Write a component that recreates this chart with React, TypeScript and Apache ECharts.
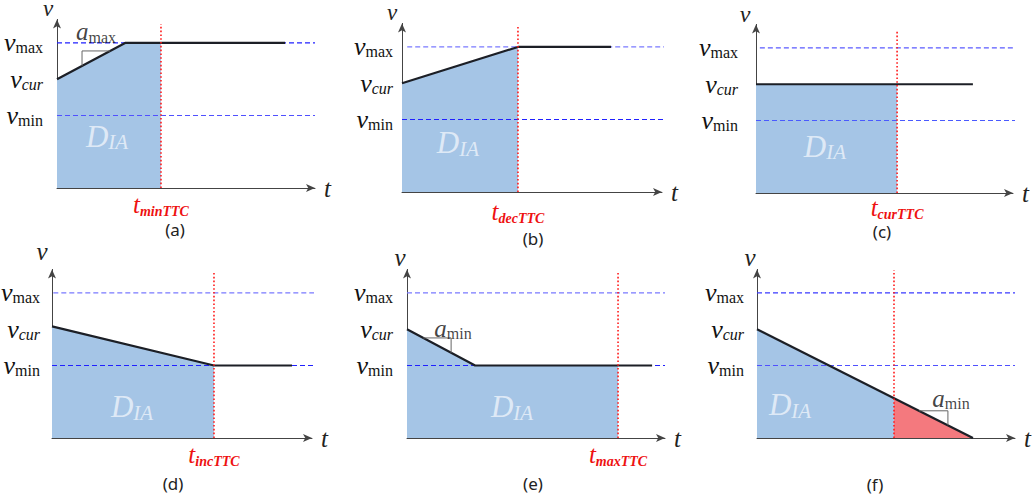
import React, { useEffect, useRef } from 'react';
import * as echarts from 'echarts';

// ---------- data ----------
const V_MAX = 4;
const V_CUR = 3;
const V_MIN = 2;
const V_AXIS_TOP = 4.65;
const T_AXIS_END = 10;
const yTickValues = [V_MIN, V_CUR, V_MAX];
const yTickSubs = ['min', 'cur', 'max'];

const captions = ['(a)', '(b)', '(c)', '(d)', '(e)', '(f)'];
const ttcTimes = [4.03, 4.46, 5.49, 6.23, 8.18, 5.31];
const ttcNames = ['minTTC', 'decTTC', 'curTTC', 'incTTC', 'maxTTC', ''];
const ttcTops = [4.52, 4.55, 4.5, 4.55, 4.55, 4.63];

const speedA = [[0, 3], [2.64, 4], [8.84, 4]];
const speedB = [[0, 3], [4.46, 4], [8.04, 4]];
const speedC = [[0, 3], [8.44, 3]];
const speedD = [[0, 3.08], [6.23, 2], [9.23, 2]];
const speedE = [[0, 3], [2.64, 2], [9.5, 2]];
const speedF = [[0, 3], [8.37, 0]];
const speedProfiles = [speedA, speedB, speedC, speedD, speedE, speedF];

const areaA = [[0, 3], [2.64, 4], [4.03, 4]];
const areaB = [[0, 3], [4.46, 4]];
const areaC = [[0, 3], [5.49, 3]];
const areaD = [[0, 3.08], [6.23, 2]];
const areaE = [[0, 3], [2.64, 2], [8.18, 2]];
const areaF = [[0, 3], [5.31, 1.1]];
const distanceAreas = [areaA, areaB, areaC, areaD, areaE, areaF];
const overshootF = [[5.31, 1.1], [8.37, 0]];

const vmaxSpans = [[0, 10], [0.2, 10.1], [0.15, 10.3], [0.05, 10.3], [0, 10], [0, 10]];
const vminSpans = [[0, 10], [0, 10.1], [0, 10.3], [0, 10.3], [0, 10], [0, 10]];

const accelA = [[2.06, 3.78], [0.97, 3.78], [0.97, 3.37]];
const accelE = [[0.63, 2.76], [1.71, 2.76], [1.71, 2.35]];
const accelF = [[6.28, 0.75], [7.4, 0.75], [7.4, 0.35]];
const accelMarks = [accelA, null, null, null, accelE, accelF];
const accelLabelPos = [[1.51, 4.3], null, null, null, [1.78, 3.01], [7.52, 1.08]];
const accelLabelSubs = ['max', '', '', '', 'min', 'min'];
const diaLabelPos = [[1.94, 1.42], [2.15, 1.35], [2.68, 1.28], [3.08, 0.85], [4.07, 0.85], [1.28, 0.91]];

// ---------- layout / style ----------
const SERIF = 'Liberation Serif, serif';
const SANS = 'Noto Sans, sans-serif';
const PLOT_H = 168.6;
const gridBoxes = [
  { left: 57, bottom: 497 - 188, width: 258, height: PLOT_H },
  { left: 402, bottom: 497 - 192, width: 260, height: PLOT_H },
  { left: 756, bottom: 497 - 193, width: 257, height: PLOT_H },
  { left: 52, bottom: 497 - 438, width: 260, height: PLOT_H },
  { left: 407, bottom: 497 - 438, width: 258, height: PLOT_H },
  { left: 757, bottom: 497 - 438, width: 258, height: PLOT_H },
];
const yLabelMargins = [14, 9, 18, 12, 14, 13];
const xLabelMargins = [4, 7, 2, 4, 4, 0];
const yNameGaps = [1, 1, 0, 8, 2, 2];
const yNamePadRight = [18, 20, 22, 20, 14, 14];
const yNameSizes = [23, 23, 24, 25, 25, 25];
const captionPos = [[175, 229], [533, 238], [882, 231], [173, 483], [533, 483], [875, 484]];
const dashColors = [
  ['#2020ff', '#5050ff'],
  ['#7a7aff', '#2020ff'],
  ['#5a5aff', '#4a5aff'],
  ['#7a7aff', '#2020ff'],
  ['#7a7aff', '#2020ff'],
  ['#3a3aff', '#5050ff'],
];
const BLUE_FILL = '#a5c5e6';
const RED_FILL = '#f4797e';

function buildOption() {
  const grid: any[] = [];
  const xAxis: any[] = [];
  const yAxis: any[] = [];
  const series: any[] = [];

  for (let i = 0; i < 6; i++) {
    grid.push({ ...gridBoxes[i], containLabel: false, outerBoundsMode: 'none' });
    xAxis.push({
      type: 'value',
      gridIndex: i,
      min: 0,
      max: T_AXIS_END,
      axisLine: {
        show: true,
        onZero: false,
        symbol: ['none', 'arrow'],
        symbolSize: [6, 9],
        lineStyle: { color: '#444', width: 1 },
      },
      axisTick: { show: false },
      splitLine: { show: false },
      axisLabel: {
        show: ttcNames[i] !== '',
        customValues: ttcNames[i] !== '' ? [ttcTimes[i]] : [],
        margin: xLabelMargins[i],
        fontFamily: SERIF,
        formatter: () => `{t|t}{s|${ttcNames[i]}}`,
        rich: {
          t: { fontFamily: SERIF, fontStyle: 'italic', fontSize: 25, color: '#ee1111', lineHeight: 26, verticalAlign: 'top' },
          s: { fontFamily: SERIF, fontStyle: 'italic', fontWeight: 'bold', fontSize: 14, color: '#ee1111', lineHeight: 14, verticalAlign: 'bottom' },
        },
      },
      name: 't',
      nameLocation: 'end',
      nameGap: 9,
      nameTextStyle: { fontFamily: SERIF, fontStyle: 'italic', fontSize: 25, color: '#222', verticalAlign: 'middle' },
    });
    yAxis.push({
      type: 'value',
      gridIndex: i,
      min: 0,
      max: V_AXIS_TOP,
      axisLine: {
        show: true,
        onZero: false,
        symbol: ['none', 'arrow'],
        symbolSize: [6, 9],
        lineStyle: { color: '#444', width: 1 },
      },
      axisTick: { show: false },
      splitLine: { show: false },
      axisLabel: {
        customValues: yTickValues,
        margin: yLabelMargins[i],
        fontFamily: SERIF,
        formatter: (val: number) => {
          const k = yTickValues.indexOf(val);
          const sub = yTickSubs[k];
          return sub === 'cur' ? `{v|v}{si|${sub}}` : `{v|v}{s|${sub}}`;
        },
        rich: {
          v: { fontFamily: SERIF, fontStyle: 'italic', fontSize: 26, color: '#111', lineHeight: 26, verticalAlign: 'top' },
          s: { fontFamily: SERIF, fontSize: 16, color: '#111', lineHeight: 18, verticalAlign: 'bottom' },
          si: { fontFamily: SERIF, fontStyle: 'italic', fontSize: 16, color: '#111', lineHeight: 18, verticalAlign: 'bottom' },
        },
      },
      name: 'v',
      nameLocation: 'end',
      nameGap: yNameGaps[i],
      nameTextStyle: {
        fontFamily: SERIF,
        fontStyle: 'italic',
        fontSize: yNameSizes[i],
        lineHeight: 20,
        color: '#222',
        verticalAlign: 'bottom',
        padding: [0, yNamePadRight[i], 0, 0],
      },
    });

    // distance area (blue)
    series.push({
      type: 'line',
      xAxisIndex: i,
      yAxisIndex: i,
      data: distanceAreas[i],
      symbol: 'none',
      lineStyle: { width: 0 },
      areaStyle: { color: BLUE_FILL, opacity: 1 },
      z: 1,
      silent: true,
    });
    if (i === 5) {
      series.push({
        type: 'line',
        xAxisIndex: i,
        yAxisIndex: i,
        data: overshootF,
        symbol: 'none',
        lineStyle: { width: 0 },
        areaStyle: { color: RED_FILL, opacity: 1 },
        z: 1,
        silent: true,
      });
    }
    // v_max / v_min dashed references
    series.push({
      type: 'line',
      xAxisIndex: i,
      yAxisIndex: i,
      data: [[vmaxSpans[i][0], V_MAX], [vmaxSpans[i][1], V_MAX]],
      symbol: 'none',
      clip: false,
      lineStyle: { width: 1.2, type: [5, 3], color: dashColors[i][0] },
      z: 2,
      silent: true,
    });
    series.push({
      type: 'line',
      xAxisIndex: i,
      yAxisIndex: i,
      data: [[vminSpans[i][0], V_MIN], [vminSpans[i][1], V_MIN]],
      symbol: 'none',
      clip: false,
      lineStyle: { width: 1.2, type: [5, 3], color: dashColors[i][1] },
      z: 2,
      silent: true,
    });
    // speed profile
    series.push({
      type: 'line',
      xAxisIndex: i,
      yAxisIndex: i,
      data: speedProfiles[i],
      symbol: 'none',
      lineStyle: { width: 2.2, color: '#1c1f26' },
      z: 3,
      silent: true,
    });
    // TTC marker
    series.push({
      type: 'line',
      xAxisIndex: i,
      yAxisIndex: i,
      data: [[ttcTimes[i], 0], [ttcTimes[i], ttcTops[i]]],
      symbol: 'none',
      lineStyle: { width: 1.6, type: [1.6, 2.2], color: '#ff1a1a' },
      z: 4,
      silent: true,
    });
    // acceleration triangle
    const mark = accelMarks[i];
    if (mark) {
      series.push({
        type: 'line',
        xAxisIndex: i,
        yAxisIndex: i,
        data: mark,
        symbol: 'none',
        lineStyle: { width: 1, color: '#666' },
        z: 3,
        silent: true,
      });
    }
    const alPos = accelLabelPos[i];
    if (alPos) {
      series.push({
        type: 'scatter',
        xAxisIndex: i,
        yAxisIndex: i,
        data: [alPos],
        symbolSize: 0,
        silent: true,
        z: 5,
        label: {
          show: true,
          position: 'inside',
          fontFamily: SERIF,
          formatter: `{a|a}{s|${accelLabelSubs[i]}}`,
          rich: {
            a: { fontFamily: SERIF, fontStyle: 'italic', fontSize: 25, color: '#111', lineHeight: 26, verticalAlign: 'top' },
            s: { fontFamily: SERIF, fontSize: 16, color: '#111', lineHeight: 18, verticalAlign: 'bottom' },
          },
        },
      });
    }
    // D_IA label
    series.push({
      type: 'scatter',
      xAxisIndex: i,
      yAxisIndex: i,
      data: [diaLabelPos[i]],
      symbolSize: 0,
      silent: true,
      z: 5,
      label: {
        show: true,
        position: 'inside',
        fontFamily: SERIF,
        formatter: '{d|D}{s|IA}',
        rich: {
          d: { fontFamily: SERIF, fontStyle: 'italic', fontSize: 31, color: '#eef4fb', lineHeight: 32, verticalAlign: 'top' },
          s: { fontFamily: SERIF, fontStyle: 'italic', fontSize: 21, color: '#eef4fb', lineHeight: 20, verticalAlign: 'bottom' },
        },
      },
    });
  }

  const graphic = captions.map((c, i) => ({
    type: 'text',
    x: captionPos[i][0],
    y: captionPos[i][1],
    style: {
      text: c,
      fontFamily: SANS,
      fontSize: 17,
      lineHeight: 17,
      fill: '#222',
      textAlign: 'center',
      textVerticalAlign: 'middle',
    },
    silent: true,
  }));

  return {
    animation: false,
    backgroundColor: '#ffffff',
    textStyle: { fontFamily: SERIF },
    grid,
    xAxis,
    yAxis,
    series,
    graphic,
  };
}

export default function App() {
  const ref = useRef<HTMLDivElement>(null);
  useEffect(() => {
    if (!ref.current) return;
    const chart = echarts.init(ref.current, null, { renderer: 'svg' });
    chart.setOption(buildOption() as any);
    return () => chart.dispose();
  }, []);
  return (
    <div
      ref={ref}
      style={{ position: 'absolute', left: 0, top: 0, width: 1035, height: 497, background: '#fff' }}
    />
  );
}
